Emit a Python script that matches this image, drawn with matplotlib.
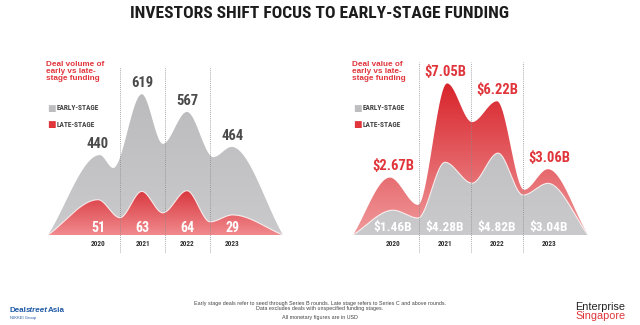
import numpy as np
import matplotlib
matplotlib.use("Agg")
import matplotlib.pyplot as plt
from matplotlib.colors import LinearSegmentedColormap
from matplotlib.patches import Polygon
from matplotlib import font_manager as fm

# ---------------- data ----------------
years = ["2020", "2021", "2022", "2023"]
volume_early = [440, 619, 567, 464]
volume_late = [51, 63, 64, 29]
value_early = [1.46, 4.28, 4.82, 3.04]   # USD billions
value_late = [2.67, 7.05, 6.22, 3.06]    # USD billions
# dips of the mountain outline between the years
volume_early_dips = [402, 473, 434]
volume_late_dips = [25, 32, 19]
value_early_dips = [1.0, 3.05, 2.35]
value_late_dips = [1.4, 5.25, 2.1]

# pick a narrow face if one is installed
NARROW_NAME = None
_installed = {f.name for f in fm.fontManager.ttflist}
for pref in ["Liberation Sans Narrow", "Roboto Condensed", "Open Sans Condensed",
             "Noto Sans Condensed", "DejaVu Sans Condensed"]:
    if pref in _installed:
        NARROW_NAME = pref
        break
NARROW = [NARROW_NAME, "DejaVu Sans"] if NARROW_NAME else ["DejaVu Sans"]
STRETCH = "condensed"

RED = "#e0353b"
W, H = 640, 325


def pchip(xk, yk, x):
    xk = np.asarray(xk, float)
    yk = np.asarray(yk, float)
    h = np.diff(xk)
    d = np.diff(yk) / h
    n = len(xk)
    m = np.zeros(n)
    for k in range(1, n - 1):
        if d[k - 1] * d[k] > 0:
            w1 = 2 * h[k] + h[k - 1]
            w2 = h[k] + 2 * h[k - 1]
            m[k] = (w1 + w2) / (w1 / d[k - 1] + w2 / d[k])
    m[0] = d[0]
    m[-1] = d[-1]
    idx = np.clip(np.searchsorted(xk, x) - 1, 0, n - 2)
    t = (x - xk[idx]) / h[idx]
    h00 = 2 * t**3 - 3 * t**2 + 1
    h10 = t**3 - 2 * t**2 + t
    h01 = -2 * t**3 + 3 * t**2
    h11 = t**3 - t**2
    return (h00 * yk[idx] + h10 * h[idx] * m[idx]
            + h01 * yk[idx + 1] + h11 * h[idx] * m[idx + 1])


def profile(peaks, dips, peak_dx, dip_x, x0, x1, base=0.0):
    xk = [x0]
    yk = [base]
    for i, p in enumerate(peaks):
        xk.append(i + peak_dx[i])
        yk.append(p)
        if i < len(dips):
            xk.append(dip_x[i])
            yk.append(dips[i])
    xk.append(x1)
    yk.append(base)
    xs = np.linspace(x0, x1, 600)
    return xs, pchip(xk, yk, xs)


def mountain(ax, xs, ys, bottom, top, c_bot, c_top, z, outline=False):
    verts = np.column_stack([np.r_[xs, xs[-1], xs[0]],
                             np.r_[ys, bottom, bottom]])
    poly = Polygon(verts, closed=True, facecolor="none", edgecolor="none")
    ax.add_patch(poly)
    cmap = LinearSegmentedColormap.from_list("g", [c_bot, c_top])
    grad = np.linspace(0, 1, 256).reshape(-1, 1)
    im = ax.imshow(grad, cmap=cmap, extent=[xs[0], xs[-1], bottom, top],
                   origin="lower", aspect="auto", zorder=z,
                   interpolation="bilinear")
    im.set_clip_path(poly)
    if outline:
        ax.plot(xs, ys, color="white", lw=0.8, alpha=0.8, zorder=z + 0.1)


def rect(left_px, bottom_px, width_px, height_px):
    return [left_px / W, 1 - bottom_px / H, width_px / W, height_px / H]


fig = plt.figure(figsize=(6.4, 3.25), dpi=100)
fig.patch.set_facecolor("white")

fig.text(0.5, 1 - 13 / H, "INVESTORS SHIFT FOCUS TO EARLY-STAGE FUNDING",
         ha="center", va="center", fontsize=12.6, fontweight="bold",
         family=NARROW, fontstretch=STRETCH, color="#1c1c1c")

BASE = 235
AX_H = 175


def setup_axes(left_px, x0, x1, ylim_back, ylim_front):
    ax = fig.add_axes(rect(left_px, BASE, 235, AX_H))
    ax.set_facecolor("none")
    ax.set_frame_on(False)
    ax.set_xlim(x0, x1)
    ax.set_ylim(*ylim_back)
    ax.set_yticks([])
    ax.set_xticks(range(len(years)), years)
    ax.tick_params(axis="x", length=0, pad=3.5, labelsize=5.2,
                   colors="#333333")
    for lab in ax.get_xticklabels():
        lab.set_fontweight("bold")
        lab.set_family(NARROW)
        lab.set_fontstretch(STRETCH)
    ax2 = ax.twinx()
    ax2.set_facecolor("none")
    ax2.axis("off")
    ax2.set_ylim(*ylim_front)
    return ax, ax2


def legend_and_title(left_px, title):
    fig.text((left_px - 1) / W, 1 - 61 / H, title, ha="left", va="top",
             fontsize=5.9, fontweight="bold", color=RED,
             family="Liberation Sans", linespacing=1.05)
    for y, col, lab in [(108, "#bdbdbf", "EARLY-STAGE"),
                        (125, RED, "LATE-STAGE")]:
        fig.text(left_px / W, 1 - y / H, "\u25A0", ha="left", va="center",
                 fontsize=6.5, color=col, family="DejaVu Sans")
        fig.text((left_px + 10) / W, 1 - y / H, lab, ha="left", va="center",
                 fontsize=5.3, fontweight="bold", color="#444444",
                 family=NARROW, fontstretch=STRETCH)


def dividers(ax, top_px):
    for b in [0.5, 1.5, 2.5]:
        ax.axvline(b, ymin=-17 / AX_H, ymax=(BASE - top_px) / AX_H,
                   color="#8a8a8a", lw=0.6, ls=(0, (1, 1.5)),
                   clip_on=False, zorder=20)


# ---------------- left: deal volume ----------------
lx0, lx1 = -1.12, 4.14
VOL_BASE = 205                       # gray scale starts above zero
vol_top = VOL_BASE + AX_H / 0.34
axL, axL2 = setup_axes(48, lx0, lx1, (VOL_BASE, vol_top), (0, 253))
xs, ys = profile(volume_early, volume_early_dips, [0.04, -0.02, -0.01, -0.01],
                 [0.34, 1.45, 2.58], lx0, lx1, base=VOL_BASE)
mountain(axL, xs, ys, VOL_BASE, vol_top, "#cacacc", "#b8b8ba", 2)
xs, ys = profile(volume_late, volume_late_dips, [0.0, -0.02, -0.01, 0.01],
                 [0.49, 1.45, 2.51], lx0, lx1)
mountain(axL2, xs, ys, 0, 80, "#f08a8d", "#d3232b", 3, outline=True)
dividers(axL2, 67)

for i, v in enumerate(volume_early):
    axL.annotate(f"{v}", (i, v), xytext=(0, 3), textcoords="offset points",
                 ha="center", va="bottom", fontsize=10.5, fontweight="bold",
                 color="#4a4a4a", family=NARROW, fontstretch=STRETCH)
for i, v in enumerate(volume_late):
    axL2.text(i, 7 / AX_H, f"{v}", transform=axL2.get_xaxis_transform(),
              ha="center", va="center", fontsize=10, fontweight="bold",
              color="white", family=NARROW, fontstretch=STRETCH, zorder=30)
legend_and_title(47, "Deal volume of\nearly vs late-\nstage funding")

# ---------------- right: deal value ----------------
rx0, rx1 = -0.77, 3.75
axR, axR2 = setup_axes(353, rx0, rx1, (0, 8.14), (0, 10.3))
xs, ys = profile(value_late, value_late_dips, [-0.06, 0.04, 0.0, -0.02],
                 [0.48, 1.52, 2.52], rx0, rx1)
mountain(axR, xs, ys, 0, 7.05, "#f09a9c", "#d8242b", 2)
xs, ys = profile(value_early, value_early_dips, [0.0, 0.0, 0.02, -0.02],
                 [0.48, 1.52, 2.5], rx0, rx1)
mountain(axR2, xs, ys, 0, 10.3, "#cacacc", "#b8b8ba", 3, outline=True)
dividers(axR2, 62)

for i, v in enumerate(value_late):
    axR.annotate(f"${v:.2f}B", (i, v), xytext=(0, 3),
                 textcoords="offset points", ha="center", va="bottom",
                 fontsize=10.5, fontweight="bold", color=RED, family=NARROW,
                 fontstretch=STRETCH)
for i, v in enumerate(value_early):
    axR2.text(i, 7 / AX_H, f"${v:.2f}B", transform=axR2.get_xaxis_transform(),
              ha="center", va="center", fontsize=9.6, fontweight="bold",
              color="white", family=NARROW, fontstretch=STRETCH, zorder=30)
legend_and_title(353, "Deal value of\nearly vs late-\nstage funding")

# ---------------- footer ----------------
notes = [(303, "Early stage deals refer to seed through Series B rounds. "
               "Late stage refers to Series C and above rounds."),
         (308.5, "Data excludes deals with unspecified funding stages."),
         (318, "All monetary figures are in USD")]
for y, t in notes:
    fig.text(0.5, 1 - y / H, t, ha="center", va="center", fontsize=3.9,
             color="#444444", family="Liberation Sans")

renderer = fig.canvas.get_renderer()
x_px = 9.0
for part, style in [("Deal", "normal"), ("street", "italic"), ("Asia", "normal")]:
    t = fig.text(x_px / W, 1 - 311 / H, part, ha="left", va="center",
                 fontsize=5.8, fontweight="bold", fontstyle=style,
                 color="#1f5aa6", family="Liberation Sans")
    x_px += t.get_window_extent(renderer).width
fig.text(10 / W, 1 - 318.5 / H, "NIKKEI Group", ha="left", va="center",
         fontsize=3.0, color="#1f5aa6", family="Liberation Sans")

fig.text(575 / W, 1 - 306.5 / H, "Enterprise", ha="left", va="center",
         fontsize=7.8, color="#222222", family="Liberation Sans")
fig.text(575 / W, 1 - 316 / H, "Singapore", ha="left", va="center",
         fontsize=7.8, color=RED, family="Liberation Sans")

fig.savefig("out.png", dpi=100, facecolor="white")
